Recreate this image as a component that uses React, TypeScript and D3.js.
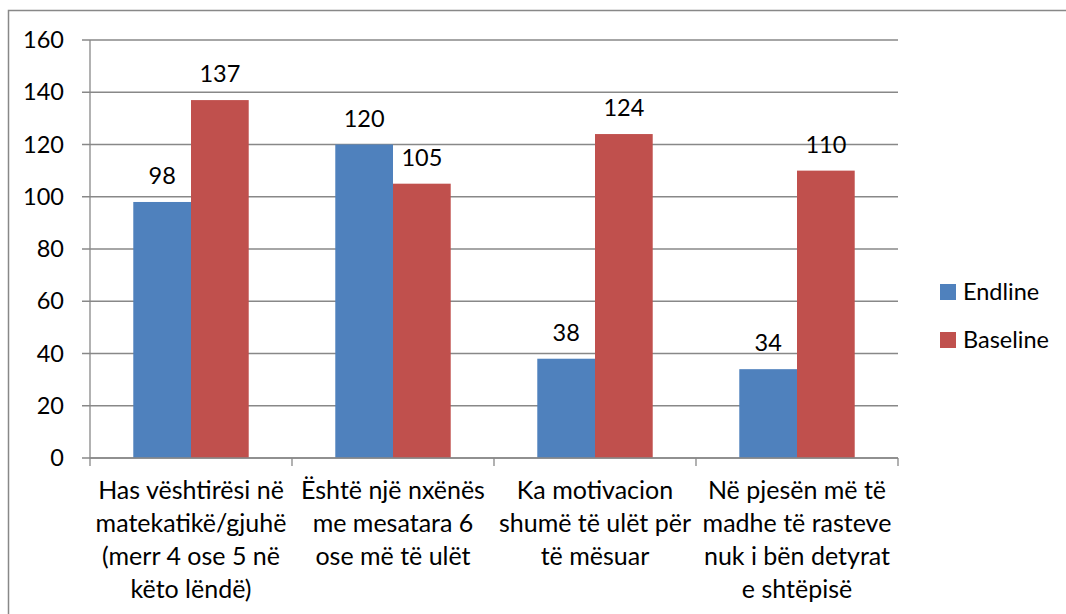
import * as d3 from "d3";

const categories = [
  ["Has vështirësi në", "matekatikë/gjuhë", "(merr 4 ose 5 në", "këto lëndë)"],
  ["Është një nxënës", "me mesatara 6", "ose më të ulët"],
  ["Ka motivacion", "shumë të ulët për", "të mësuar"],
  ["Në pjesën më të", "madhe të rasteve", "nuk i bën detyrat", "e shtëpisë"],
];
const endline = [98, 120, 38, 34];
const baseline = [137, 105, 124, 110];
const seriesNames = ["Endline", "Baseline"];
const yTicks = [0, 20, 40, 60, 80, 100, 120, 140, 160];

const colors = ["#4F81BD", "#C0504D"];
const font = "Lato, 'Open Sans', sans-serif";

export default function App() {
  const W = 1066;
  const H = 614;
  const plot = { left: 90, right: 898, top: 40, bottom: 458 };

  const x = d3
    .scaleBand<number>()
    .domain(categories.map((_, i) => i))
    .range([plot.left, plot.right])
    .paddingInner(0)
    .paddingOuter(0);
  const groupW = x.bandwidth();
  // gap width 150% of bar width
  const barW = groupW / (2 + 1.5);
  const inner = d3
    .scaleBand<number>()
    .domain([0, 1])
    .range([groupW / 2 - barW, groupW / 2 + barW]);

  const y = d3.scaleLinear().domain([0, 160]).range([plot.bottom, plot.top]);

  const series = [endline, baseline];

  return (
    <svg
      width={W}
      height={H}
      style={{ position: "absolute", left: 0, top: 0, background: "#fff" }}
      fontFamily={font}
    >
      <rect x={8.5} y={10.5} width={1070} height={620} fill="#fff" stroke="#888" strokeWidth={1.5} />

      {/* gridlines */}
      {yTicks.map((t) => (
        <line
          key={"g" + t}
          x1={plot.left - 8}
          x2={plot.right}
          y1={y(t)}
          y2={y(t)}
          stroke="#888"
          strokeWidth={1.3}
        />
      ))}
      {/* y axis */}
      <line x1={plot.left} x2={plot.left} y1={plot.top} y2={plot.bottom} stroke="#888" strokeWidth={1.3} />
      {yTicks.map((t) => (
        <text key={"yt" + t} x={64} y={y(t)} dy="0.35em" textAnchor="end" fontSize={23.5} fill="#000">
          {t}
        </text>
      ))}

      {/* bars */}
      {series.map((vals, s) =>
        vals.map((v, i) => (
          <rect
            key={`b${s}-${i}`}
            x={(x(i) as number) + (inner(s) as number)}
            y={y(v)}
            width={inner.bandwidth()}
            height={y(0) - y(v)}
            fill={colors[s]}
          />
        ))
      )}
      {series.map((vals, s) =>
        vals.map((v, i) => (
          <text
            key={`l${s}-${i}`}
            x={(x(i) as number) + (inner(s) as number) + inner.bandwidth() / 2}
            y={y(v) - 18}
            textAnchor="middle"
            fontSize={23.5}
            fill="#000"
          >
            {v}
          </text>
        ))
      )}

      {/* x axis */}
      <line x1={plot.left} x2={plot.right} y1={plot.bottom} y2={plot.bottom} stroke="#888" strokeWidth={1.3} />
      {[...categories.map((_, i) => x(i) as number), plot.right].map((px, i) => (
        <line key={"xt" + i} x1={px} x2={px} y1={plot.bottom} y2={plot.bottom + 8} stroke="#888" strokeWidth={1.3} />
      ))}
      {categories.map((lines, i) => (
        <text key={"c" + i} textAnchor="middle" fontSize={25} fill="#000">
          {lines.map((ln, k) => (
            <tspan key={k} x={(x(i) as number) + groupW / 2} y={499 + k * 33}>
              {ln}
            </tspan>
          ))}
        </text>
      ))}

      {/* legend */}
      {seriesNames.map((n, s) => (
        <g key={"lg" + s} transform={`translate(940, ${284 + s * 48})`}>
          <rect x={0} y={0} width={16} height={16} fill={colors[s]} />
          <text x={23} y={8} dy="0.35em" fontSize={23.5} fill="#000">
            {n}
          </text>
        </g>
      ))}
    </svg>
  );
}
